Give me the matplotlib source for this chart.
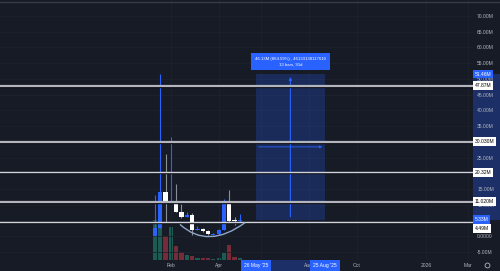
import matplotlib
matplotlib.use("Agg")
import matplotlib.pyplot as plt
import matplotlib.dates as mdates
import matplotlib.transforms as mtransforms
from matplotlib.lines import Line2D
from matplotlib.path import Path
from matplotlib.patches import PathPatch, Rectangle
import numpy as np
import pandas as pd

# weekly candles, prices in millions
weeks = pd.date_range("2025-01-13", periods=17, freq="7D")
opens = [0.2, 2.8, 14.1, 10.9, 11.3, 7.8, 6.1, 6.8, 2.0, 2.4, 1.7, 0.5, 0.6, 2.0, 11.3, 5.3, 4.8]
highs = [13.1, 51.46, 26.0, 31.4, 16.5, 10.4, 7.8, 7.5, 3.3, 2.6, 2.0, 1.0, 2.3, 11.9, 14.6, 6.2, 7.0]
lows = [0.1, 2.5, 4.6, 10.7, 7.6, 5.8, 6.0, 0.4, 1.9, 1.4, 0.5, 0.4, 0.5, 1.9, 4.3, 3.6, 4.6]
closes = [2.8, 14.1, 11.0, 11.3, 7.8, 6.1, 6.8, 2.0, 2.4, 1.6, 0.6, 0.9, 2.0, 11.2, 4.9, 4.8, 5.33]
volumes = [80, 82, 48, 66, 28, 17, 10, 8, 4.6, 3.4, 3.4, 2, 4.6, 14.6, 30, 6.6, 4.6]

# horizontal levels drawn on the chart
levels = [47.87, 30.03, 20.32, 11.02, 4.49]
level_labels = ["47.87M", "30.030M", "20.32M", "11.020M", "4.49M"]
level_thick = [True, True, False, True, False]

# date range measurement
meas_start, meas_end = "2025-05-26", "2025-08-25"
meas_low, meas_high = 5.33, 51.46
meas_text = "46.13M (864.59%) , 46133138117610\n13 bars, 91d"

# cup drawing (start, bottom, end)
cup_dates = ["2025-02-15", "2025-03-27", "2025-05-12"]
cup_prices = [3.8, -0.1, 4.4]

tick_dates = ["2025-02-03", "2025-04-07", "2025-06-02", "2025-08-04", "2025-10-06", "2026-01-05", "2026-03-02"]
tick_names = ["Feb", "Apr", "", "Aug", "Oct", "2026", "Mar"]
price_ticks = np.arange(-5, 71, 5)
hidden_ticks = [30, 20, 5]  # covered by the level labels

bg = "#171b26"
grid_c = "#1e222d"
blue = "#2962ff"
txt_c = "#b2b5be"
plt.rcParams["font.family"] = ["Liberation Sans", "DejaVu Sans"]

fig = plt.figure(figsize=(5, 2.71), dpi=100, facecolor=bg)
pos = [0, 11 / 271, 473 / 500, 260 / 271]
ax_v = fig.add_axes(pos)
ax = fig.add_axes(pos)
ax_v.set_zorder(0)
ax.set_zorder(1)
ax.patch.set_visible(False)

x = mdates.date2num(weeks)
xlim = mdates.date2num(pd.to_datetime(["2024-06-23", "2026-03-08"]))

# volume
up = np.array(closes) >= np.array(opens)
vcol = np.where(up, "#1d5e55", "#7b2d3a")
ax_v.bar(x, volumes, width=5.6, color=vcol, alpha=0.95)
ax_v.set_xlim(xlim)
ax_v.set_ylim(0, max(volumes) * 260 / 41)
ax_v.axis("off")

ax.set_xlim(xlim)
ax.set_ylim(-7.5, 75.0)
for s in ax.spines.values():
    s.set_visible(False)

# candles
for xi, o, h, l, c, u in zip(x, opens, highs, lows, closes, up):
    wick = blue if u else "#8a8d96"
    body = blue if u else "#ffffff"
    ax.vlines(xi, l, h, color=wick, lw=0.8, zorder=3)
    ax.bar(xi, max(abs(c - o), 0.35), bottom=min(o, c), width=5.6, color=body, zorder=3.5, lw=0)

# levels
for lv, th in zip(levels, level_thick):
    ax.axhline(lv - 0.35, color="#0b0d12", lw=1.0, zorder=4)
    ax.axhline(lv, color="#b2b5be" if th else "#d1d4dc", lw=1.6 if th else 1.0, zorder=4.1)

# cup arc as quadratic bezier through the bottom point
cx = mdates.date2num(pd.to_datetime(cup_dates))
p0 = np.array([cx[0], cup_prices[0]])
pm = np.array([cx[1], cup_prices[1]])
p2 = np.array([cx[2], cup_prices[2]])
ctrl = 2 * pm - 0.5 * (p0 + p2)
arc = Path([p0, ctrl, p2], [Path.MOVETO, Path.CURVE3, Path.CURVE3])
ax.add_patch(PathPatch(arc, fc="none", ec="#8ea6c8", lw=1.0, zorder=4.2))

# measurement box
m0, m1 = mdates.date2num(pd.to_datetime([meas_start, meas_end]))
mid = (m0 + m1) / 2
ax.add_patch(Rectangle((m0, meas_low), m1 - m0, meas_high - meas_low, fc=blue, alpha=0.24, lw=0, zorder=2))
ax.annotate("", xy=(mid, meas_high), xytext=(mid, meas_low),
            arrowprops=dict(arrowstyle="-|>", color=blue, lw=0.8, mutation_scale=4), zorder=3)
ymid = (meas_low + meas_high) / 2
ax.annotate("", xy=(m1, ymid), xytext=(m0, ymid),
            arrowprops=dict(arrowstyle="-|>", color=blue, lw=0.6, mutation_scale=3.5), zorder=3)
ax.annotate(meas_text, xy=(mid, meas_high), xytext=(0, 5.5), textcoords="offset points",
            ha="center", va="bottom", fontsize=3.1, color="white", linespacing=1.6, zorder=6,
            bbox=dict(boxstyle="square,pad=0.9", fc=blue, ec="none"))

# right price axis
ax.yaxis.tick_right()
ax.set_yticks(price_ticks)
ax.set_yticklabels(["" if v in hidden_ticks else ("0.0000" if v == 0 else f"{v:.2f}M") for v in price_ticks])
ax.tick_params(axis="y", length=0, pad=3, labelsize=3.6, colors=txt_c)
ax.set_xticks(mdates.date2num(pd.to_datetime(tick_dates)))
ax.set_xticklabels(tick_names)
ax.tick_params(axis="x", length=0, pad=2.3, labelsize=3.6, colors=txt_c)
ax.grid(True, color=grid_c, lw=0.6)

ytr = mtransforms.blended_transform_factory(ax.transAxes, ax.transData)
ax.add_patch(Rectangle((1.0, meas_low), 27 / 473, meas_high - meas_low, transform=ytr,
                       fc=blue, alpha=0.3, lw=0, clip_on=False, zorder=1))
for lv, lb in zip(levels, level_labels):
    # the 4.49M tag is pushed below the 5.33M price tag
    dy = -6.5 if lb == "4.49M" else 0
    ax.annotate(lb, xy=(1.004, lv), xycoords=ytr, xytext=(0, dy), textcoords="offset pixels",
                ha="left", va="center", fontsize=3.6, color="black", zorder=7, annotation_clip=False,
                bbox=dict(boxstyle="square,pad=0.35", fc="white", ec="none"))
for lv, lb in [(meas_high, "51.46M"), (meas_low, "5.33M")]:
    ax.text(1.004, lv, lb, transform=ytr, ha="left", va="center",
            fontsize=3.6, color="white", zorder=8, clip_on=False,
            bbox=dict(boxstyle="square,pad=0.35", fc=blue, ec="none"))

# time axis highlight and date boxes
xtr = mtransforms.blended_transform_factory(ax.transData, ax.transAxes)
ax.add_patch(Rectangle((m0, -11 / 260), m1 - m0, 11 / 260, transform=xtr, fc=blue, alpha=0.3,
                       lw=0, clip_on=False, zorder=1))
for d, lb in [(m0, "26 May '25"), (m1, "25 Aug '25")]:
    ax.text(d, -5.5 / 260, lb, transform=xtr, ha="center", va="center", fontsize=3.6, color="white",
            zorder=8, clip_on=False, bbox=dict(boxstyle="square,pad=0.6", fc=blue, ec="none"))

fig.add_artist(Line2D([0, 1], [1 - 1.5 / 271, 1 - 1.5 / 271], transform=fig.transFigure, color="#363a45", lw=1))
fig.add_artist(Line2D([487 / 500], [6 / 271], transform=fig.transFigure, marker="o", ms=3.5,
                      mfc="none", mec=txt_c, mew=0.6))

fig.savefig("out.png", dpi=100, facecolor=bg)
